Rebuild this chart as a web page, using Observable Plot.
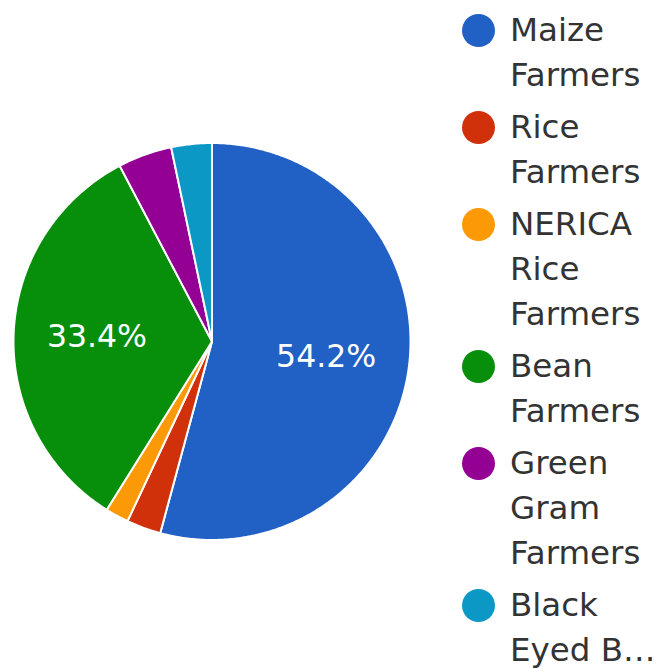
<!DOCTYPE html>
<html>
<head>
<meta charset="utf-8">
<script src="https://cdn.jsdelivr.net/npm/d3@7"></script>
<script src="https://cdn.jsdelivr.net/npm/@observablehq/plot@0.6"></script>
<style>
  html, body { margin: 0; padding: 0; background: #fff; }
  #wrap { position: relative; width: 656px; height: 668px; overflow: hidden; }
  #legend { position: absolute; left: 462px; top: 8px; font-family: "DejaVu Sans", Verdana, sans-serif; font-size: 32.5px; color: #333; }
  .item { display: flex; align-items: flex-start; margin-bottom: 7px; }
  .sw { width: 33px; height: 33px; border-radius: 50%; margin-top: 6px; margin-right: 15px; flex: none; }
  .lbl { line-height: 45px; white-space: nowrap; }
</style>
</head>
<body>
<div id="wrap"><div id="chart"></div><div id="legend"></div></div>
<script>
const categories = ["Maize Farmers", "Rice Farmers", "NERICA Rice Farmers", "Bean Farmers", "Green Gram Farmers", "Black Eyed Bean Farmers"];
const shares = [54.2, 2.8, 1.9, 33.4, 4.4, 3.3];
const colors = ["#2161c6", "#d0300a", "#fb9a06", "#078f0b", "#940093", "#0c98c5"];
const legendLines = [["Maize", "Farmers"], ["Rice", "Farmers"], ["NERICA", "Rice", "Farmers"], ["Bean", "Farmers"], ["Green", "Gram", "Farmers"], ["Black", "Eyed B\u2026"]];

const data = categories.map((c, i) => ({name: c, value: shares[i]}));
const arcs = d3.pie().sort(null).value(d => d.value)(data);

// polygon vertices of each slice (unit radius, angle clockwise from 12 o'clock)
const pts = [];
arcs.forEach(a => {
  const n = Math.max(2, Math.ceil((a.endAngle - a.startAngle) / 0.01));
  pts.push({name: a.data.name, x: 0, y: 0});
  for (let k = 0; k <= n; k++) {
    const t = a.startAngle + (a.endAngle - a.startAngle) * k / n;
    pts.push({name: a.data.name, x: Math.sin(t), y: Math.cos(t)});
  }
  pts.push({name: a.data.name, x: 0, y: 0});
});
const labels = arcs.filter(a => a.data.value >= 5).map(a => {
  const m = (a.startAngle + a.endAngle) / 2;
  return {x: 0.58 * Math.sin(m), y: 0.58 * Math.cos(m), text: a.data.value.toFixed(1) + "%"};
});

const W = 656, H = 668, cx = 211.5, cy = 341, R = 198.5;
const chart = Plot.plot({
  width: W, height: H,
  margin: 0,
  style: {fontFamily: "DejaVu Sans, Verdana, sans-serif", background: "white"},
  x: {domain: [-cx / R, (W - cx) / R], axis: null},
  y: {domain: [-(H - cy) / R, cy / R], axis: null},
  color: {domain: categories, range: colors},
  marks: [
    Plot.line(pts, {x: "x", y: "y", z: "name", fill: "name", stroke: "white", strokeWidth: 2, strokeLinejoin: "round", curve: "linear"}),
    Plot.text(labels, {x: "x", y: "y", text: "text", fill: "white", fontSize: 31.5, textAnchor: "middle"})
  ]
});
document.getElementById("chart").appendChild(chart);

const leg = document.getElementById("legend");
categories.forEach((c, i) => {
  const item = document.createElement("div");
  item.className = "item";
  const sw = document.createElement("div");
  sw.className = "sw";
  sw.style.background = colors[i];
  const lbl = document.createElement("div");
  lbl.className = "lbl";
  lbl.innerHTML = legendLines[i].join("<br>");
  item.appendChild(sw); item.appendChild(lbl);
  leg.appendChild(item);
});
</script>
</body>
</html>
